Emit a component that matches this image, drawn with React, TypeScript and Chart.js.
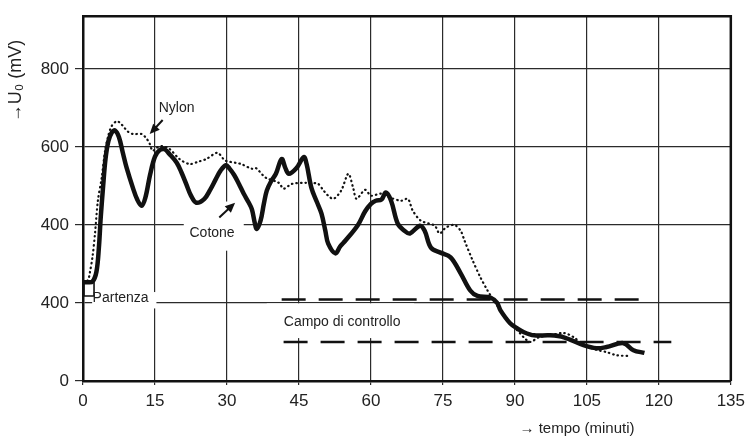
import React, { useEffect, useRef } from 'react';
import { Chart, registerables } from 'chart.js';

Chart.register(...registerables);

// ---- Data (time in minutes, value in chart units; tick labels as printed) ----
const cotoneT = [0, 1, 2, 2.8, 3.3, 3.7, 4.2, 4.7, 5.3, 6, 6.7, 7.5, 8.3, 9.1, 10.4, 11.3, 12.2, 13, 14, 15, 16, 17, 18, 19.5, 20.5, 21.5, 22.5, 23.6, 25.3, 26.5, 27.7, 28.7, 29.8, 30.5, 31.5, 32.5, 33.5, 34.5, 35.2, 35.8, 36.2, 37, 37.7, 38.3, 39.2, 40.2, 41.4, 42.2, 42.9, 44.5, 46, 46.6, 47.6, 48.7, 49.7, 50.5, 51.1, 52.6, 53.6, 54.7, 57.3, 58.8, 60, 61, 62.2, 63.1, 64.2, 65.6, 67, 68.1, 70.2, 71.2, 72.5, 74.5, 76.6, 78.7, 80.7, 82.2, 84.9, 86.3, 87, 89, 90.5, 91.9, 94, 97.3, 100.2, 104.3, 107, 109.1, 112.6, 114.7, 117];
const cotoneV = [253, 253, 255, 280, 340, 420, 500, 570, 615, 637, 642, 625, 585, 546, 495, 465, 449, 470, 530, 575, 592, 594, 582, 560, 535, 505, 475, 457, 467, 490, 518, 540, 553, 545, 528, 505, 480, 458, 440, 405, 390, 411, 455, 488, 512, 531, 569, 545, 531, 546, 574, 556, 495, 460, 429, 385, 352, 327, 345, 360, 400, 435, 454, 462, 465, 483, 462, 403, 385, 378, 398, 385, 342, 329, 317, 276, 232, 218, 214, 200, 181, 148, 135, 125, 117, 117, 112, 92, 84, 87, 97, 79, 72];

const nylonT = [0, 1, 1.4, 2, 2.5, 3.1, 3.9, 4.6, 5.3, 6, 7, 7.6, 8.3, 9.3, 10.4, 12.2, 13.2, 13.9, 14.5, 15.4, 16.4, 18, 20.1, 22.2, 24, 25.7, 28, 29.2, 29.8, 31.9, 33, 35.2, 36, 38.1, 40.8, 41.8, 43.5, 46.4, 49, 50, 51.1, 52.2, 53.8, 55.3, 56.3, 57, 58.8, 60, 62.1, 64, 66.3, 67.7, 68.7, 70.4, 73.3, 74.3, 75.6, 77.4, 78.7, 79.5, 81.2, 82.8, 84.3, 85.3, 87, 89, 90.5, 92, 93.2, 95, 97.3, 100.2, 102.3, 104.3, 107, 109.1, 111.2, 113.9];
const nylonV = [253, 258, 276, 320, 378, 462, 521, 590, 630, 654, 666, 663, 654, 640, 633, 633, 622, 608, 590, 598, 602, 595, 569, 556, 562, 569, 585, 570, 564, 559, 556, 544, 546, 521, 508, 493, 505, 508, 505, 490, 475, 467, 488, 531, 495, 467, 490, 475, 480, 470, 462, 467, 437, 411, 398, 378, 393, 400, 385, 360, 309, 266, 232, 212, 181, 148, 130, 110, 100, 112, 117, 123, 112, 92, 80, 74, 66, 64];

const controlUpperT = [41.4, 118.4];
const controlUpperV = [209, 209];
const controlLowerT = [41.8, 122.6];
const controlLowerV = [100, 100];

const xTicks = [0, 15, 30, 45, 60, 75, 90, 105, 120, 135];
const yTicks = [0, 200, 400, 600, 800];
const yTickLabels = ['0', '400', '400', '600', '800'];

const yAxisTitle = '→U₀ (mV)';
const xAxisTitle = '→ tempo (minuti)';

// annotations (data units)
const textLabels = [
  { text: 'Nylon', t: 19.5, v: 700, align: 'center' },
  { text: 'Cotone', t: 26.9, v: 378, align: 'center' },
  { text: 'Partenza', t: 2.0, v: 212, align: 'left' },
  { text: 'Campo di controllo', t: 54, v: 151, align: 'center' },
];
const arrows = [
  { t1: 16.6, v1: 669, t2: 13.9, v2: 633 },
  { t1: 28.4, v1: 419, t2: 31.7, v2: 457 },
];
const masks = [
  { t1: 21, t2: 33.5, v1: 334, v2: 416 },
  { t1: 29.4, t2: 30.6, v1: 410, v2: 460 },
  { t1: 1.9, t2: 15.3, v1: 186, v2: 228 },
  { t1: 38.3, t2: 69, v1: 110, v2: 199 },
];
const bracket = { t1: 0.2, t2: 2.3, v1: 218, v2: 253 };

const FONT = "'Liberation Sans', Arial, Helvetica, sans-serif";
const INK = '#222';

const decorPlugin = {
  id: 'decor',
  beforeDatasetsDraw(chart: any) {
    const { ctx, scales } = chart;
    const x = scales.x, y = scales.y;
    ctx.save();
    ctx.fillStyle = '#ffffff';
    for (const m of masks) {
      const px1 = x.getPixelForValue(m.t1), px2 = x.getPixelForValue(m.t2);
      const py1 = y.getPixelForValue(m.v2), py2 = y.getPixelForValue(m.v1);
      ctx.fillRect(px1, py1, px2 - px1, py2 - py1);
    }
    ctx.restore();
  },
  afterDatasetsDraw(chart: any) {
    const { ctx, scales, chartArea } = chart;
    const x = scales.x, y = scales.y;
    ctx.save();
    // top and right frame
    ctx.strokeStyle = '#111';
    ctx.lineWidth = 2.5;
    ctx.beginPath();
    ctx.moveTo(chartArea.left, chartArea.top);
    ctx.lineTo(chartArea.right, chartArea.top);
    ctx.lineTo(chartArea.right, chartArea.bottom);
    ctx.stroke();

    // start bracket
    ctx.lineWidth = 1.6;
    ctx.beginPath();
    const bx1 = x.getPixelForValue(bracket.t1), bx2 = x.getPixelForValue(bracket.t2);
    const by1 = y.getPixelForValue(bracket.v2), by2 = y.getPixelForValue(bracket.v1);
    ctx.moveTo(bx1, by1);
    ctx.lineTo(bx1, by2);
    ctx.lineTo(bx2, by2);
    ctx.lineTo(bx2, by1);
    ctx.stroke();

    // arrows
    ctx.fillStyle = '#111';
    for (const a of arrows) {
      const x1 = x.getPixelForValue(a.t1), y1 = y.getPixelForValue(a.v1);
      const x2 = x.getPixelForValue(a.t2), y2 = y.getPixelForValue(a.v2);
      const ang = Math.atan2(y2 - y1, x2 - x1);
      ctx.lineWidth = 2;
      ctx.beginPath();
      ctx.moveTo(x1, y1);
      ctx.lineTo(x2 - 6 * Math.cos(ang), y2 - 6 * Math.sin(ang));
      ctx.stroke();
      ctx.beginPath();
      ctx.moveTo(x2, y2);
      ctx.lineTo(x2 - 10 * Math.cos(ang) + 4.5 * Math.sin(ang), y2 - 10 * Math.sin(ang) - 4.5 * Math.cos(ang));
      ctx.lineTo(x2 - 10 * Math.cos(ang) - 4.5 * Math.sin(ang), y2 - 10 * Math.sin(ang) + 4.5 * Math.cos(ang));
      ctx.closePath();
      ctx.fill();
    }

    // text labels
    ctx.fillStyle = INK;
    ctx.font = `14px ${FONT}`;
    ctx.textBaseline = 'middle';
    for (const l of textLabels) {
      ctx.textAlign = l.align as CanvasTextAlign;
      ctx.fillText(l.text, x.getPixelForValue(l.t), y.getPixelForValue(l.v));
    }

    // axis titles
    ctx.font = `15px ${FONT}`;
    ctx.textAlign = 'center';
    ctx.fillText(xAxisTitle, 577, 429);
    ctx.save();
    ctx.translate(16, 81);
    ctx.rotate(-Math.PI / 2);
    ctx.font = `18px ${FONT}`;
    ctx.fillText(yAxisTitle, 0, 0);
    ctx.restore();
    ctx.restore();
  },
};

export default function App() {
  const canvasRef = useRef<HTMLCanvasElement | null>(null);

  useEffect(() => {
    if (!canvasRef.current) return;
    const chart = new Chart(canvasRef.current, {
      type: 'line',
      data: {
        datasets: [
          {
            label: 'Cotone',
            data: cotoneT.map((t, i) => ({ x: t, y: cotoneV[i] })),
            borderColor: '#111',
            borderWidth: 4.5,
            tension: 0.35,
            pointRadius: 0,
            fill: false,
          },
          {
            label: 'Nylon',
            data: nylonT.map((t, i) => ({ x: t, y: nylonV[i] })),
            borderColor: '#111',
            borderWidth: 2.2,
            borderDash: [0.5, 4],
            borderCapStyle: 'round',
            tension: 0.3,
            pointRadius: 0,
            fill: false,
          },
          {
            label: 'Campo di controllo (sup.)',
            data: controlUpperT.map((t, i) => ({ x: t, y: controlUpperV[i] })),
            borderColor: '#111',
            borderWidth: 2.5,
            borderDash: [24, 13],
            pointRadius: 0,
            fill: false,
          },
          {
            label: 'Campo di controllo (inf.)',
            data: controlLowerT.map((t, i) => ({ x: t, y: controlLowerV[i] })),
            borderColor: '#111',
            borderWidth: 2.5,
            borderDash: [24, 13],
            pointRadius: 0,
            fill: false,
          },
        ],
      },
      options: {
        animation: false,
        responsive: true,
        maintainAspectRatio: false,
        layout: { padding: { top: 15, right: 19, left: 0, bottom: 0 } },
        plugins: { legend: { display: false }, tooltip: { enabled: false } },
        scales: {
          x: {
            type: 'linear',
            min: 0,
            max: 135,
            afterBuildTicks: (s: any) => { s.ticks = xTicks.map((v) => ({ value: v })); },
            afterFit: (s: any) => { s.height = 55; },
            grid: { color: '#2b2b2b', lineWidth: 1.2, tickLength: 4 },
            border: { display: true, color: '#111', width: 2.5 },
            ticks: {
              font: { family: FONT, size: 17 },
              color: INK,
              padding: 6,
              maxRotation: 0,
              autoSkip: false,
              callback: (v: any) => String(v),
            },
          },
          y: {
            type: 'linear',
            min: 0,
            max: 935,
            afterBuildTicks: (s: any) => { s.ticks = yTicks.map((v) => ({ value: v })); },
            afterFit: (s: any) => { s.width = 83; },
            grid: { color: '#2b2b2b', lineWidth: 1.2, tickLength: 8 },
            border: { display: true, color: '#111', width: 2.5 },
            ticks: {
              font: { family: FONT, size: 17 },
              color: INK,
              padding: 6,
              autoSkip: false,
              callback: (v: any) => {
                const i = yTicks.indexOf(Number(v));
                return i >= 0 ? yTickLabels[i] : '';
              },
            },
          },
        },
      },
      plugins: [decorPlugin],
    });
    return () => chart.destroy();
  }, []);

  return (
    <div style={{ position: 'absolute', left: 0, top: 0, width: 751, height: 436, background: '#fff' }}>
      <canvas ref={canvasRef} />
    </div>
  );
}
